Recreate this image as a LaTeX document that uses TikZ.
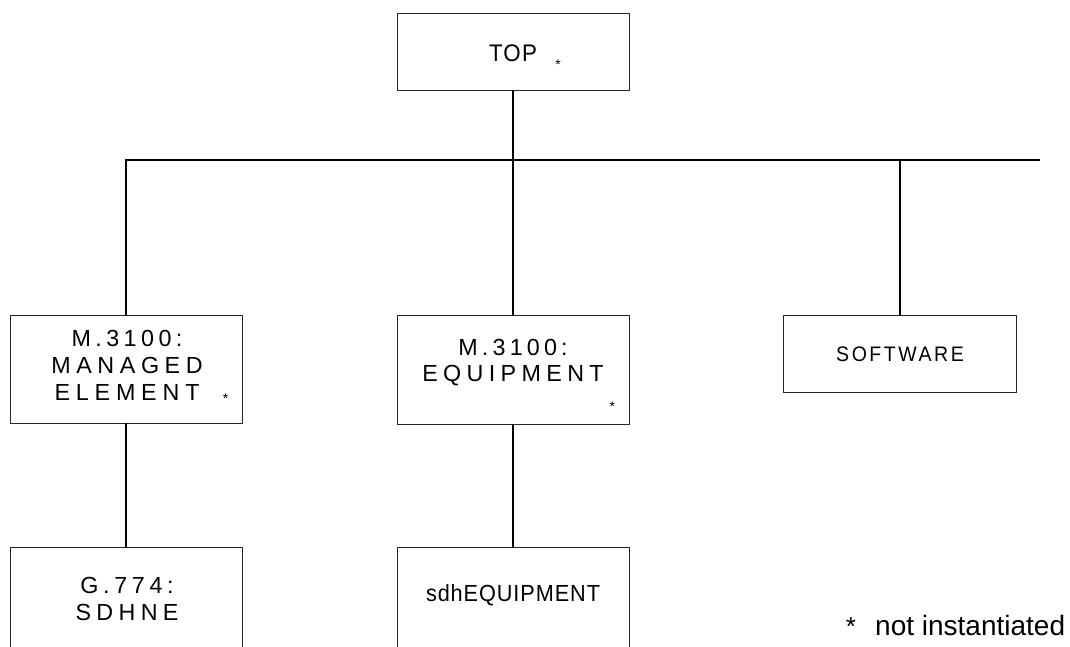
\documentclass[tikz,border=0pt]{standalone}
\usepackage{fontspec}
\setmainfont{Liberation Sans}
\newfontfamily\labfont{Liberation Sans}
\newfontfamily\narrowfont[FakeStretch=0.93]{Liberation Sans}
\newcommand\spaced[2]{{\addfontfeature{LetterSpace=#1}#2}}
\begin{document}
\begin{tikzpicture}[x=1pt,y=-1pt,
  box/.style={draw=black!85, line width=1pt, inner sep=0pt, outer sep=0pt},
  conn/.style={line width=2pt},
  lab/.style={font=\labfont\fontsize{23.3}{26.7}\selectfont, anchor=base, inner sep=0pt},
  narrowlab/.style={font=\narrowfont\fontsize{23.3}{26.7}\selectfont, anchor=base, inner sep=0pt},
  star/.style={font=\fontsize{14}{14}\selectfont, anchor=base, inner sep=0pt},
  legend/.style={font=\fontsize{28}{30}\selectfont, anchor=base west, inner sep=0pt}]
\clip (0,0) rectangle (1070,646);
\fill[white] (0,0) rectangle (1070,646);
% boxes
\node[box, minimum width=232pt, minimum height=77pt] (top) at (513,51.5) {};
\node[box, minimum width=232pt, minimum height=108pt] (me) at (126,369) {};
\node[box, minimum width=232pt, minimum height=109pt] (eq) at (513,369.5) {};
\node[box, minimum width=233pt, minimum height=77pt] (sw) at (899.5,353.5) {};
\node[box, minimum width=232pt, minimum height=153pt] (sdhne) at (126,623.5) {};
\node[box, minimum width=232pt, minimum height=153pt] (sdheq) at (513,623.5) {};
% labels
\node[narrowlab, font=\narrowfont\fontsize{24}{26}\selectfont] (toplab) at (513,61) {\spaced{5}{TOP}};
\node[lab] (me1) at (127,346.7) {\spaced{19}{M.3100:}};
\node[lab] (me2) at (127,373.3) {\spaced{24}{MANAGED}};
\node[lab] (me3) at (127,400) {\spaced{25}{ELEMENT}};
\node[lab] (eq1) at (513,355) {\spaced{18}{M.3100:}};
\node[lab] (eq2) at (513,381) {\spaced{23}{EQUIPMENT}};
\node[narrowlab, font=\narrowfont\fontsize{21}{24}\selectfont] (swlab) at (900,361.7) {\spaced{12}{SOFTWARE}};
\node[lab] (ne1) at (127,593) {\spaced{20}{G.774:}};
\node[lab] (ne2) at (127,620) {\spaced{23}{SDHNE}};
\node[narrowlab] (sdheqlab) at (513,601.7) {\spaced{4}{sdhEQUIPMENT}};
% stars
\node[star] (topstar) at (558,69) {*};
\node[star] (mestar) at (225.7,403.7) {*};
\node[star] (eqstar) at (612.3,411.3) {*};
% legend
\node[legend, font=\fontsize{26}{30}\selectfont, anchor=base] (legstar) at (851,635) {*};
\node[legend] (legtext) at (875,635) {not instantiated};
% connectors
\coordinate (busL) at (125,160);
\coordinate (busR) at (1040,160);
\draw[conn] (busL) -- (busR);
\draw[conn] (top.south) -- (top.south |- busL);
\draw[conn] (me.north) -- (me.north |- busL);
\draw[conn] (eq.north) -- (eq.north |- busL);
\draw[conn] (sw.north) -- (sw.north |- busL);
\draw[conn] (me.south) -- (sdhne.north);
\draw[conn] (eq.south) -- (sdheq.north);
\end{tikzpicture}
\end{document}
